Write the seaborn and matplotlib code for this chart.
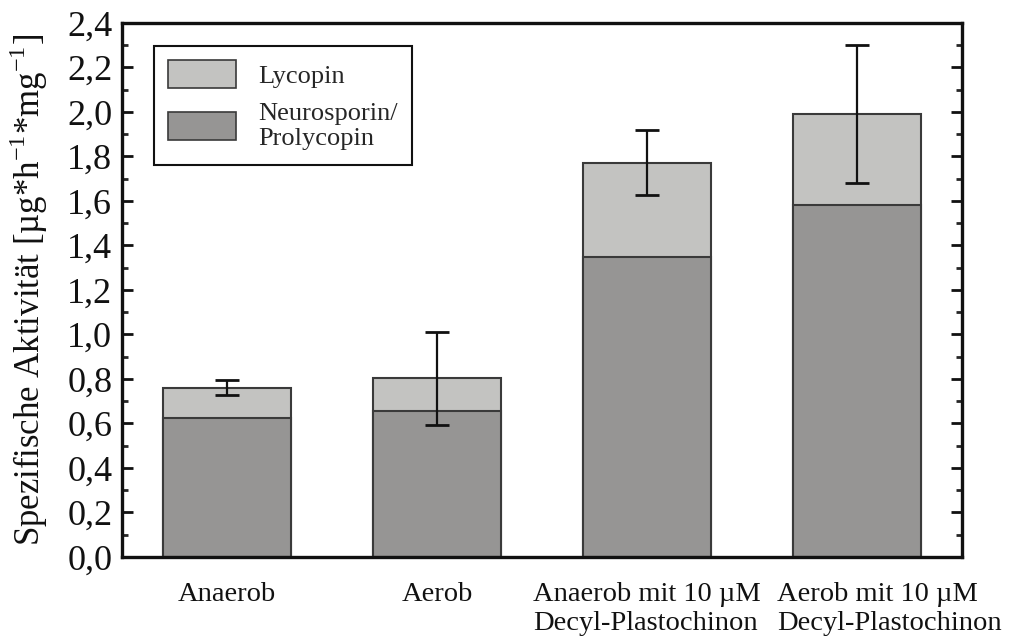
import matplotlib
matplotlib.use("Agg")
import matplotlib.pyplot as plt
import matplotlib.transforms as mtransforms
from matplotlib.ticker import MultipleLocator, FuncFormatter
from matplotlib.patches import Patch
import seaborn as sns
import pandas as pd

# Carotinoid-Aktivität je Kulturbedingung
conditions = ["Anaerob", "Aerob", "Anaerob mit 10 µM\nDecyl-Plastochinon",
              "Aerob mit 10 µM\nDecyl-Plastochinon"]
neurosporin = [0.623, 0.655, 1.350, 1.582]
lycopin = [0.138, 0.148, 0.422, 0.409]
total_error = [0.035, 0.21, 0.145, 0.31]
series_names = ["Lycopin", "Neurosporin/\nProlycopin"]
ytick_values = [0.0, 0.2, 0.4, 0.6, 0.8, 1.0, 1.2, 1.4, 1.6, 1.8, 2.0, 2.2, 2.4]

totals = [n + l for n, l in zip(neurosporin, lycopin)]
df = pd.DataFrame({"Bedingung": conditions, "Neurosporin": neurosporin,
                   "Gesamt": totals})

sns.set_style("white")
plt.rcParams["font.family"] = ["Liberation Serif", "DejaVu Serif"]
plt.rcParams["mathtext.fontset"] = "custom"
plt.rcParams["mathtext.rm"] = "Liberation Serif"

light = "#c3c3c1"
dark = "#969594"
edge = "#3a3a3a"

fig = plt.figure(figsize=(10.10, 6.44), dpi=100)
ax = fig.add_axes([0.1208, 0.1351, 0.8317, 0.8292])

sns.barplot(data=df, x="Bedingung", y="Gesamt", color=light, width=0.61,
            edgecolor=edge, linewidth=1.5, saturation=1, ax=ax)
sns.barplot(data=df, x="Bedingung", y="Neurosporin", color=dark, width=0.61,
            edgecolor=edge, linewidth=1.5, saturation=1, ax=ax)

ax.errorbar(range(len(conditions)), totals, yerr=total_error, fmt="none",
            ecolor="#111111", elinewidth=1.6, capsize=8.5, capthick=2.0,
            zorder=5)

ax.set_xlim(-0.5, 3.5)
ax.set_ylim(0, 2.4)
ax.set_yticks(ytick_values)
ax.yaxis.set_minor_locator(MultipleLocator(0.1))
ax.yaxis.set_major_formatter(FuncFormatter(lambda v, p: f"{v:.1f}".replace(".", ",")))

ax.tick_params(axis="y", which="major", direction="in", length=8, width=2,
               left=True, right=True, labelsize=26, pad=7, colors="#111111")
ax.tick_params(axis="y", which="minor", direction="in", length=4.5, width=2,
               left=True, right=True)
ax.tick_params(axis="x", which="both", length=0, labelsize=20.5, pad=18,
               colors="#111111")
for lbl in ax.get_xticklabels():
    lbl.set_multialignment("left")
# shift the last label right so the two long labels do not collide
last = ax.get_xticklabels()[-1]
last.set_transform(last.get_transform() +
                   mtransforms.ScaledTranslation(0.32, 0, fig.dpi_scale_trans))

for side in ["left", "right", "top", "bottom"]:
    ax.spines[side].set_visible(True)
    ax.spines[side].set_color("#111111")
    ax.spines[side].set_linewidth(2.4)

ax.set_xlabel("")
ax.set_ylabel("Spezifische Aktivität [µg*h$^{\\mathregular{-1}}$*mg$^{\\mathregular{-1}}$]",
              fontsize=25, labelpad=12, color="#111111")

handles = [Patch(facecolor=light, edgecolor=edge, linewidth=1.2),
           Patch(facecolor=dark, edgecolor=edge, linewidth=1.2)]
leg = ax.legend(handles, series_names, loc="upper left",
                bbox_to_anchor=(0.038, 0.957), borderaxespad=0,
                fontsize=19, handlelength=2.55, handleheight=1.25,
                handletextpad=0.85, labelspacing=0.55, borderpad=0.55,
                frameon=True, fancybox=False, edgecolor="#111111",
                framealpha=1)
leg.get_frame().set_linewidth(1.5)

fig.savefig("out.png", dpi=100)
